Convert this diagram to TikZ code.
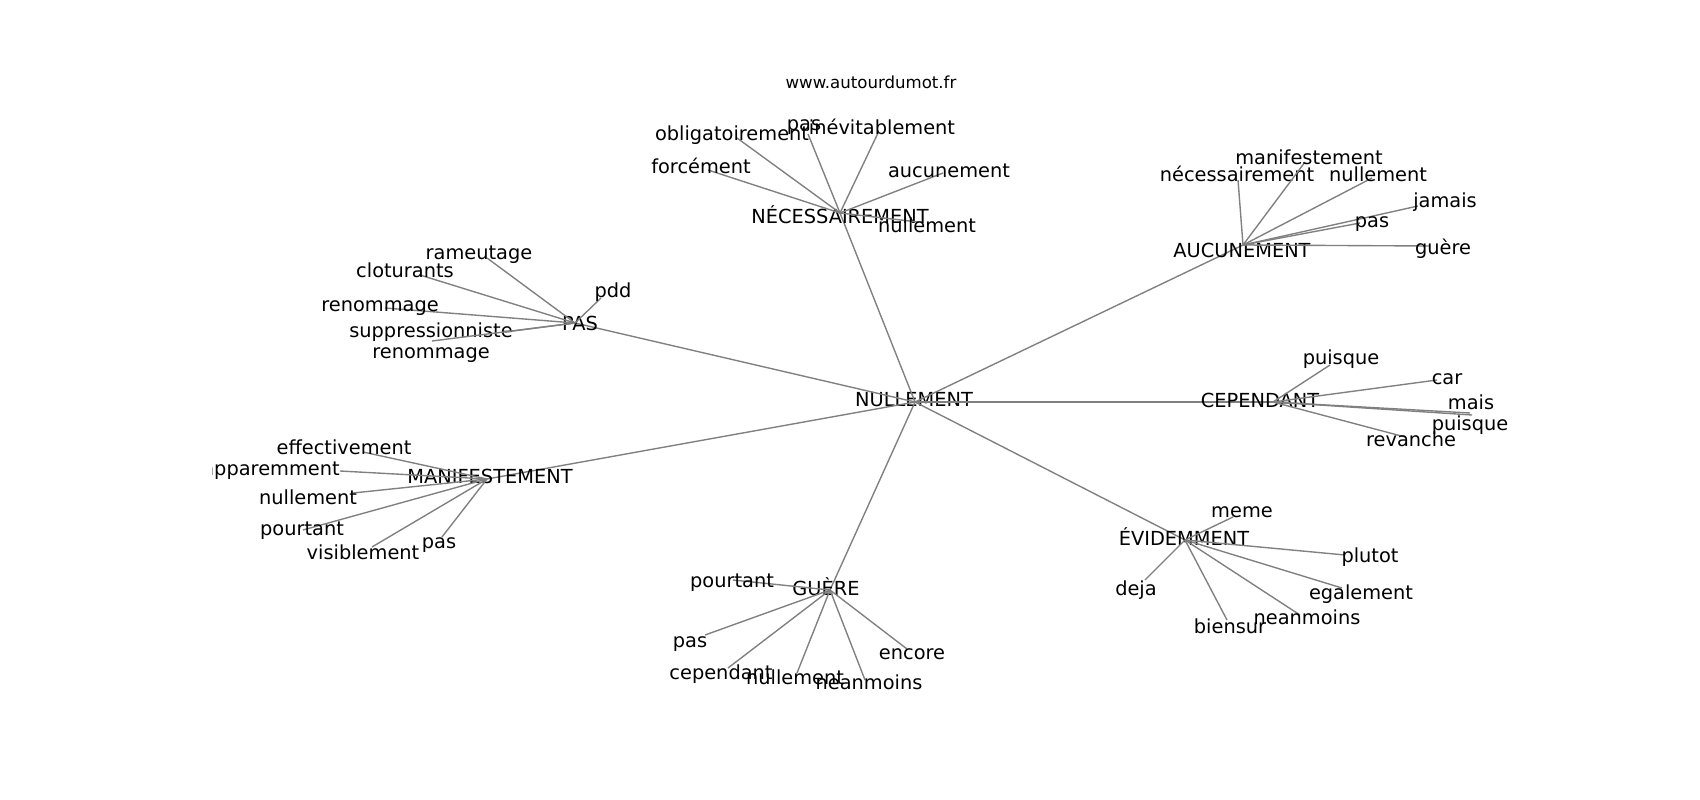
\documentclass[tikz,border=0pt]{standalone}
\usepackage{fontspec}
\setmainfont{DejaVu Sans}
\usepackage{tikz}
\usetikzlibrary{positioning}

\tikzset{
  lbl/.style={font=\fontsize{14}{16}\selectfont, inner sep=0pt,
    text height=0.73em, text depth=0pt, yshift=-1.5pt},
  ttl/.style={font=\fontsize{12}{14}\selectfont, inner sep=0pt,
    text height=0.73em, text depth=0pt, yshift=-1pt},
  lnk/.style={draw=gray, line width=1pt},
}

\begin{document}
\begin{tikzpicture}[x=0.0254cm,y=-0.0254cm]

  % page frame (pixels of the 1700x800 figure)
  \useasboundingbox (0,0) rectangle (1700,800);

  % title above the axes
  \node[ttl] (title) at (871,82) {www.autourdumot.fr};

  \begin{scope}
  % axes box clips the labels
  \clip (212.5,96) rectangle (1530,712);

  % centre of the graph
  \coordinate (nul) at (915,402);
  \node[lbl] (nul-t) at (914,399) {NULLEMENT};

  % second ring
  \coordinate (nec) at (840,213);
  \coordinate (auc) at (1243,245);
  \coordinate (pas) at (575,323);
  \coordinate (cep) at (1273,402);
  \coordinate (evi) at (1185,540);
  \coordinate (gue) at (830,590);
  \coordinate (man) at (487,479);

  \foreach \hub in {nec,auc,pas,cep,evi,gue,man}
    \draw[lnk] (nul) -- (\hub);

  \node[lbl] (nec-t) at (840,216) {NÉCESSAIREMENT};
  \node[lbl] (auc-t) at (1242,250) {AUCUNEMENT};
  \node[lbl] (pas-t) at (580,323) {PAS};
  \node[lbl] (cep-t) at (1260,400) {CEPENDANT};
  \node[lbl] (evi-t) at (1184,538) {ÉVIDEMMENT};
  \node[lbl] (gue-t) at (826,588) {GUÈRE};
  \node[lbl] (man-t) at (490,476) {MANIFESTEMENT};

  % leaves: edge end x/y, label x/y, word
  \foreach \ex/\ey/\tx/\ty/\word [count=\i] in {
      737/138/732/133/obligatoirement, 808/134/804/123/pas,
      878/133/882/127/inévitablement, 708/170/701/166/forcément,
      943/173/949/170/aucunement, 918/222/927/225/nullement} {
    \coordinate (nec-\i) at (\ex,\ey);
    \draw[lnk] (nec) -- (nec-\i);
    \node[lbl] (nec-\i-t) at (\tx,\ty) {\word};
  }

  \foreach \ex/\ey/\tx/\ty/\word [count=\i] in {
      1238/180/1237/174/nécessairement, 1305/162/1309/157/manifestement,
      1372/178/1378/174/nullement, 1418/206/1445/200/jamais,
      1360/223/1372/220/pas, 1430/246/1443/247/guère} {
    \coordinate (auc-\i) at (\ex,\ey);
    \draw[lnk] (auc) -- (auc-\i);
    \node[lbl] (auc-\i-t) at (\tx,\ty) {\word};
  }

  \foreach \ex/\ey/\tx/\ty/\word [count=\i] in {
      487/258/479/252/rameutage, 420/275/405/270/cloturants,
      385/308/380/304/renommage, 505/332/431/330/suppressionniste,
      432/341/431/351/renommage, 601/298/613/290/pdd} {
    \coordinate (pas-\i) at (\ex,\ey);
    \draw[lnk] (pas) -- (pas-\i);
    \node[lbl] (pas-\i-t) at (\tx,\ty) {\word};
  }

  \foreach \ex/\ey/\tx/\ty/\word [count=\i] in {
      1330/365/1341/357/puisque, 1437/380/1447/377/car,
      1470/413/1471/402/mais, 1472/415/1470/423/puisque,
      1405/437/1411/439/revanche} {
    \coordinate (cep-\i) at (\ex,\ey);
    \draw[lnk] (cep) -- (cep-\i);
    \node[lbl] (cep-\i-t) at (\tx,\ty) {\word};
  }

  \foreach \ex/\ey/\tx/\ty/\word [count=\i] in {
      1233/517/1242/510/meme, 1345/555/1370/555/plutot,
      1342/588/1361/592/egalement, 1300/615/1307/617/neanmoins,
      1227/620/1230/626/biensur, 1145/580/1136/588/deja} {
    \coordinate (evi-\i) at (\ex,\ey);
    \draw[lnk] (evi) -- (evi-\i);
    \node[lbl] (evi-\i-t) at (\tx,\ty) {\word};
  }

  \foreach \ex/\ey/\tx/\ty/\word [count=\i] in {
      733/580/732/580/pourtant, 705/635/690/640/pas,
      728/668/721/672/cependant, 797/673/795/677/nullement,
      865/680/869/682/neanmoins, 907/649/912/652/encore} {
    \coordinate (gue-\i) at (\ex,\ey);
    \draw[lnk] (gue) -- (gue-\i);
    \node[lbl] (gue-\i-t) at (\tx,\ty) {\word};
  }

  \foreach \ex/\ey/\tx/\ty/\word [count=\i] in {
      363/452/344/447/effectivement, 340/471/271/468/apparemment,
      353/493/308/497/nullement, 303/530/302/528/pourtant,
      372/547/363/552/visiblement, 442/537/439/541/pas} {
    \coordinate (man-\i) at (\ex,\ey);
    \draw[lnk] (man) -- (man-\i);
    \node[lbl] (man-\i-t) at (\tx,\ty) {\word};
  }
  \end{scope}

\end{tikzpicture}
\end{document}
